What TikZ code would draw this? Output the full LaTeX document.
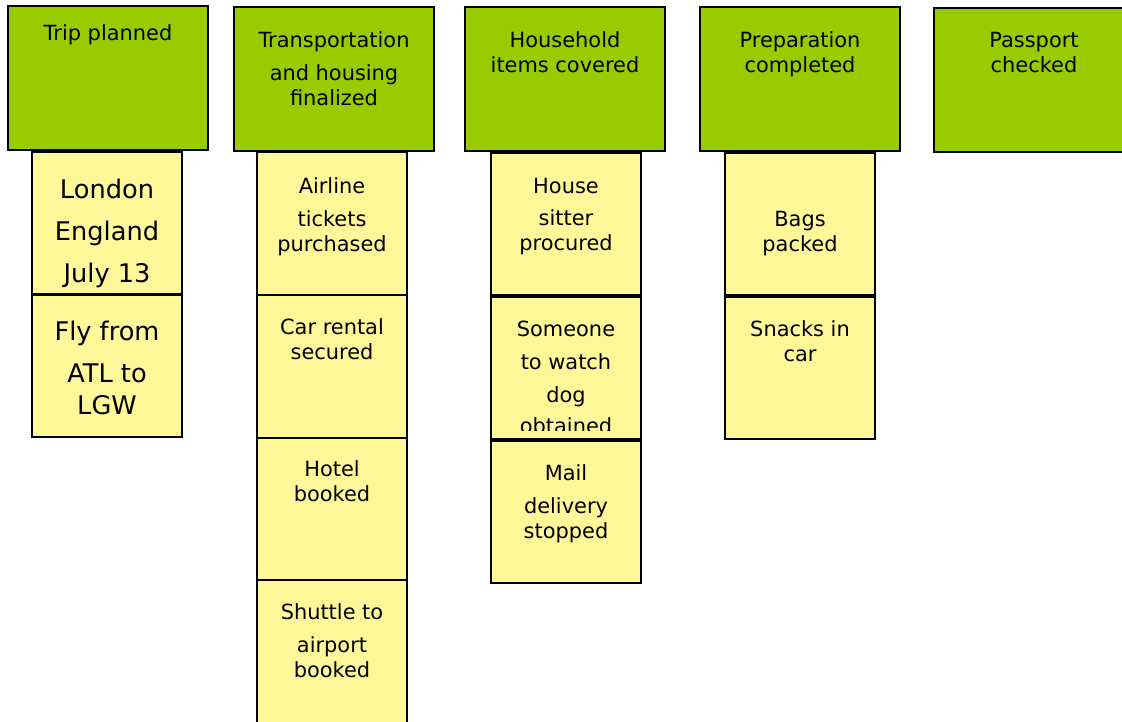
\documentclass[tikz,border=0pt]{standalone}
\usepackage{fontspec}
\setmainfont{DejaVu Sans}
\definecolor{hgreen}{RGB}{153,204,0}
\definecolor{nyellow}{RGB}{255,248,153}
\tikzset{
	hdr/.style={draw, line width=0.04cm, fill=hgreen, minimum width=4cm, minimum height=2.88cm, inner sep=0pt, outer sep=0pt},
	note/.style={draw, line width=0.04cm, fill=nyellow, minimum width=3cm, minimum height=2.86cm, inner sep=0pt, outer sep=0pt},
	txt/.style={anchor=north, align=center, inner sep=0pt, font=\fontsize{11.9}{14.2}\selectfont},
	bigtxt/.style={anchor=north, align=center, inner sep=0pt, font=\fontsize{14.6}{18.1}\selectfont}
}
\begin{document}
\begin{tikzpicture}[x=0.02cm, y=-0.02cm]
		\useasboundingbox (0,0) rectangle (1122,721);
		\clip (0,0) rectangle (1122,721);
		\node[hdr] (trip) at (108,78) {};
		\node[hdr] (trans) at (334,79) {};
		\node[hdr] (house) at (565,79) {};
		\node[hdr] (prep) at (800,79) {};
		\node[hdr] (pass) at (1034,80) {};
		\node[txt] (tripT) at ([yshift=-0.37cm]trip.north) {Trip planned};
		\node[txt] (transT) at ([yshift=-0.48cm]trans.north) {Transportation\\[4.5pt]and housing\\finalized};
		\node[txt] (houseT) at ([yshift=-0.48cm]house.north) {Household\\items covered};
		\node[txt] (prepT) at ([yshift=-0.48cm]prep.north) {Preparation\\completed};
		\node[txt] (passT) at ([yshift=-0.48cm]pass.north) {Passport\\checked};
		\node[note] (london) at (107,223) {};
		\node[note] (fly) at (107,366) {};
		\node[note] (airline) at (332,223.5) {};
		\node[note] (car) at (332,366.5) {};
		\node[note] (hotel) at (332,509) {};
		\node[note] (shuttle) at (332,651) {};
		\node[note] (sitter) at (566,224) {};
		\node[note] (dog) at (566,368) {};
		\node[note] (mail) at (566,512) {};
		\node[note] (bags) at (800,224) {};
		\node[note] (snacks) at (800,368) {};
		\node[bigtxt] (londonT) at ([yshift=-0.55cm]london.north) {London\\[5.7pt]England\\[5.7pt]July 13};
		\node[bigtxt] (flyT) at ([yshift=-0.53cm]fly.north) {Fly from\\[5.7pt]ATL to\\LGW};
		\node[txt] (airlineT) at ([yshift=-0.5cm]airline.north) {Airline\\[4.5pt]tickets\\purchased};
		\node[txt] (carT) at ([yshift=-0.46cm]car.north) {Car rental\\secured};
		\node[txt] (hotelT) at ([yshift=-0.46cm]hotel.north) {Hotel\\booked};
		\node[txt] (shuttleT) at ([yshift=-0.48cm]shuttle.north) {Shuttle to\\[4.5pt]airport\\booked};
		\node[txt] (sitterT) at ([yshift=-0.5cm]sitter.north) {House\\[4.5pt]sitter\\procured};
		\begin{scope}
			\clip (492,297) rectangle (640,430);
			\node[txt] (dogT) at ([yshift=-0.48cm]dog.north) {Someone\\[4.5pt]to watch\\[4.5pt]dog\\[3.5pt]obtained};
		\end{scope}
		\node[txt] (mailT) at ([yshift=-0.48cm]mail.north) {Mail\\[4.5pt]delivery\\stopped};
		\node[txt] (bagsT) at ([yshift=-1.16cm]bags.north) {Bags\\packed};
		\node[txt] (snacksT) at ([yshift=-0.48cm]snacks.north) {Snacks in\\car};
	\end{tikzpicture}
\end{document}
